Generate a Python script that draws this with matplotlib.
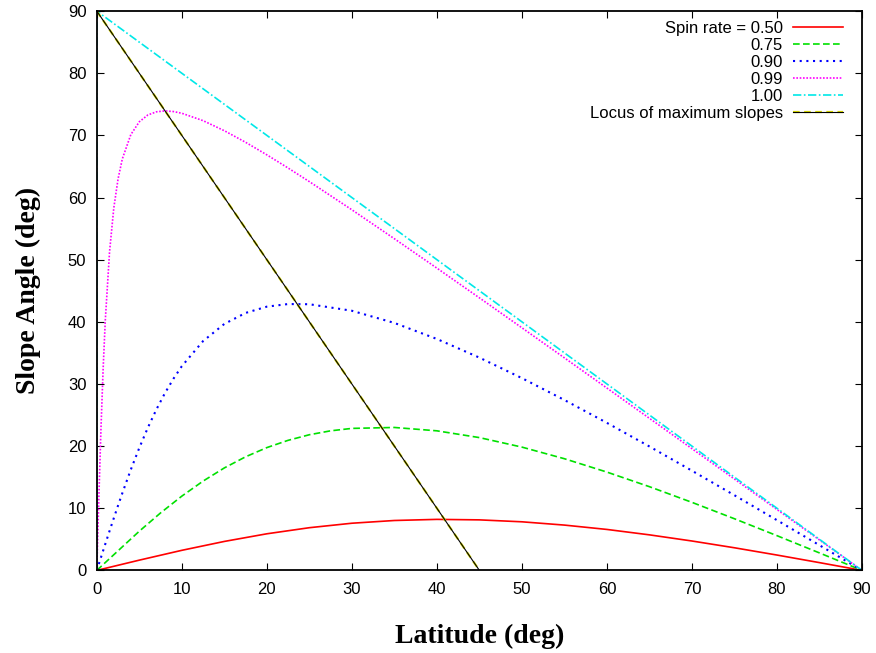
import matplotlib
matplotlib.use("Agg")
import matplotlib.pyplot as plt

# latitude grids (deg)
lat_050 = [0, 5, 10, 15, 20, 25, 30, 35, 40, 45, 50, 55, 60, 65, 70, 75, 80, 85, 90]
lat_075 = [0, 5, 7.5, 10, 12.5, 15, 17.5, 20, 22.5, 25, 27.5, 30, 35, 40, 45, 50, 55,
           60, 65, 70, 75, 80, 85, 90]
lat_fine = [0, 0.25, 0.5, 0.75, 1, 1.5, 2, 2.5, 3, 4, 5, 6, 7, 8, 9, 10, 12.5, 15,
            17.5, 20, 22.5, 25, 30, 35, 40, 45, 50, 55, 60, 65, 70, 75, 80, 85, 90]

# slope angle (deg)
slope_050 = [0, 1.65, 3.23, 4.66, 5.89, 6.87, 7.59, 8.03, 8.21, 8.13, 7.82, 7.29,
             6.59, 5.72, 4.73, 3.64, 2.47, 1.25, 0]
slope_075 = [0, 6.31, 9.25, 11.95, 14.37, 16.49, 18.28, 19.76, 20.93, 21.83, 22.46,
             22.85, 23.00, 22.46, 21.37, 19.84, 17.97, 15.82, 13.47, 10.95, 8.31,
             5.59, 2.81, 0]
slope_090 = [0, 1.07, 2.13, 3.19, 4.25, 6.35, 8.41, 10.44, 12.42, 16.21, 19.72, 22.95,
             25.87, 28.49, 30.81, 32.86, 36.90, 39.66, 41.43, 42.44, 42.86, 42.83,
             41.78, 39.82, 37.24, 34.24, 30.94, 27.42, 23.74, 19.94, 16.04, 12.09,
             8.08, 4.05, 0]
slope_099 = [0, 12.12, 23.18, 32.59, 40.26, 51.27, 58.33, 62.99, 66.21, 70.12, 72.19,
             73.28, 73.79, 73.94, 73.84, 73.56, 72.37, 70.75, 68.89, 66.87, 64.75,
             62.56, 58.03, 53.37, 48.64, 43.86, 39.04, 34.20, 29.34, 24.47, 19.59,
             14.70, 9.80, 4.90, 0]
lat_100 = [0, 0, 90]
slope_100 = [0, 90, 0]
lat_locus = [0, 45]
slope_locus = [90, 0]

labels = ["Spin rate = 0.50", "0.75", "0.90", "0.99", "1.00", "Locus of maximum slopes"]

plt.rcParams['font.family'] = ['Liberation Sans', 'DejaVu Sans']

fig = plt.figure(figsize=(8.76, 6.53), dpi=100)
ax = fig.add_axes([0.1105, 0.1265, 0.8735, 0.8565])

lw = 1.2
l1, = ax.plot(lat_050, slope_050, color='#ff0000', lw=lw)
l2, = ax.plot(lat_075, slope_075, color='#00e000', lw=lw, linestyle=(0, (4, 2)))
l3, = ax.plot(lat_fine, slope_090, color='#0000ff', lw=1.5, linestyle=(0, (1, 2.2)))
l4, = ax.plot(lat_fine, slope_099, color='#ff00ff', lw=1.2, linestyle=(0, (1, 1)))
l5, = ax.plot(lat_100, slope_100, color='#00e8e8', lw=lw, linestyle=(0, (5, 1.5, 1, 1.5)))
ly, = ax.plot(lat_locus, slope_locus, color='#d8d800', lw=1.6, linestyle=(0, (3, 2)))
lk, = ax.plot(lat_locus, slope_locus, color='black', lw=0.8)

ax.set_xlim(0, 90)
ax.set_ylim(0, 90)
ax.set_xticks(range(0, 91, 10))
ax.set_yticks(range(0, 91, 10))
ax.tick_params(direction='in', length=5, width=0.8, top=True, right=True, labelsize=12)
ax.tick_params(axis='x', pad=8)
ax.tick_params(axis='y', pad=7.5)
for s in ax.spines.values():
    s.set_linewidth(1.3)

ax.set_xlabel("Latitude (deg)", fontsize=20, fontweight='bold',
              family=['Liberation Serif'], labelpad=20)
ax.set_ylabel("Slope Angle (deg)", fontsize=20, fontweight='bold',
              family=['Liberation Serif'], labelpad=19)

leg = ax.legend([l1, l2, l3, l4, l5, (ly, lk)], labels, loc='upper right',
                bbox_to_anchor=(0.975, 0.983), frameon=False, markerfirst=False,
                fontsize=12, handlelength=3, handletextpad=0.6, labelspacing=0.12,
                borderpad=0, borderaxespad=0)

fig.savefig("out.png", dpi=100)
